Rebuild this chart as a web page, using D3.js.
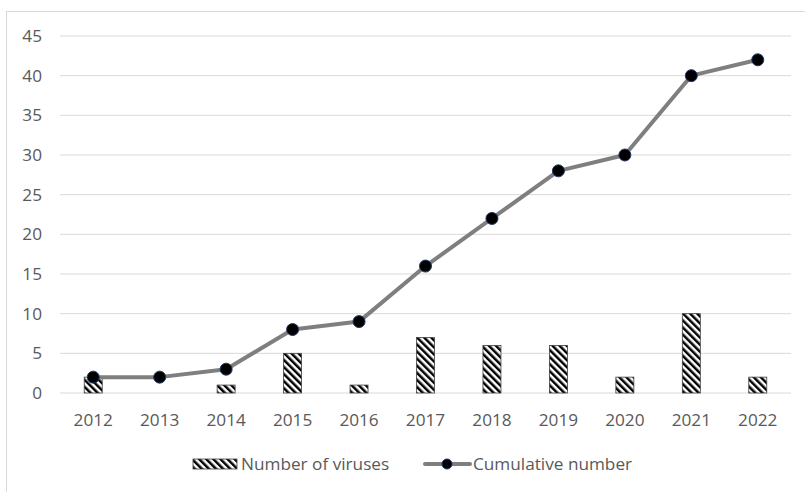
<!DOCTYPE html>
<html><head><meta charset="utf-8">
<script src="https://cdn.jsdelivr.net/npm/d3@7"></script>
<style>body{margin:0;background:#fff}svg{display:block}</style>
</head><body>
<svg id="c" width="805" height="492"></svg>
<script>
const years = ["2012","2013","2014","2015","2016","2017","2018","2019","2020","2021","2022"];
const viruses = [2,0,1,5,1,7,6,6,2,10,2];
const cumulative = [2,2,3,8,9,16,22,28,30,40,42];
const yTicks = [0,5,10,15,20,25,30,35,40,45];

const svg = d3.select("#c");
const font = "'Open Sans', 'DejaVu Sans', sans-serif";
const fs = "17.2px";
const textColor = "#595959";

svg.append("rect").attr("x",6.5).attr("y",11.5).attr("width",810).attr("height",490)
  .attr("fill","#fff").attr("stroke","#d9d9d9");

const defs = svg.append("defs");
const pat = defs.append("pattern").attr("id","hatch").attr("patternUnits","userSpaceOnUse")
  .attr("width",5).attr("height",5).attr("patternTransform","rotate(-45)");
pat.append("rect").attr("width",5).attr("height",5).attr("fill","#fff");
pat.append("rect").attr("width",2.5).attr("height",5).attr("fill","#000");

const x = d3.scaleBand().domain(years).range([60, 791]);
const y = d3.scaleLinear().domain([0,45]).range([393, 36]);

// gridlines
svg.append("g").selectAll("line").data(yTicks).join("line")
  .attr("x1",60).attr("x2",791).attr("y1",d=>y(d)).attr("y2",d=>y(d))
  .attr("stroke","#d9d9d9").attr("stroke-width",1);

// y axis labels
const yAxis = svg.append("g").attr("transform","translate(60,0)")
  .call(d3.axisLeft(y).tickValues(yTicks).tickSize(0).tickPadding(18));
yAxis.select(".domain").remove();
yAxis.selectAll("text").attr("fill",textColor).style("font-family",font).style("font-size",fs);

// x axis labels
const xAxis = svg.append("g").attr("transform","translate(0,393)")
  .call(d3.axisBottom(x).tickSize(0).tickPadding(21));
xAxis.select(".domain").remove();
xAxis.selectAll("text").attr("fill",textColor).style("font-family",font).style("font-size",fs);

// bars
const bw = 18;
svg.append("g").selectAll("rect").data(years.map((yr,i)=>({yr,v:viruses[i]})).filter(d=>d.v>0)).join("rect")
  .attr("x",d=>x(d.yr)+x.bandwidth()/2-bw/2).attr("width",bw)
  .attr("y",d=>y(d.v)).attr("height",d=>y(0)-y(d.v))
  .attr("fill","url(#hatch)").attr("stroke","#404040").attr("stroke-width",0.8);

// line
const line = d3.line().x((d,i)=>x(years[i])+x.bandwidth()/2).y(d=>y(d));
svg.append("path").datum(cumulative).attr("d",line)
  .attr("fill","none").attr("stroke","#7f7f7f").attr("stroke-width",4).attr("stroke-linejoin","round");
svg.append("g").selectAll("circle").data(cumulative).join("circle")
  .attr("cx",(d,i)=>x(years[i])+x.bandwidth()/2).attr("cy",d=>y(d)).attr("r",6)
  .attr("fill","#000").attr("stroke","#1f3864").attr("stroke-width",1);

// legend
const lg = svg.append("g");
lg.append("rect").attr("x",193).attr("y",459).attr("width",44).attr("height",10)
  .attr("fill","url(#hatch)").attr("stroke","#404040").attr("stroke-width",0.8);
lg.append("text").attr("x",241).attr("y",470).text("Number of viruses")
  .attr("fill",textColor).style("font-family",font).style("font-size",fs);
lg.append("line").attr("x1",425).attr("x2",470).attr("y1",464).attr("y2",464)
  .attr("stroke","#7f7f7f").attr("stroke-width",4).attr("stroke-linecap","round");
lg.append("circle").attr("cx",447).attr("cy",464).attr("r",5).attr("fill","#000").attr("stroke","#1f3864");
lg.append("text").attr("x",473).attr("y",470).text("Cumulative number")
  .attr("fill",textColor).style("font-family",font).style("font-size",fs);
</script>
</body></html>
